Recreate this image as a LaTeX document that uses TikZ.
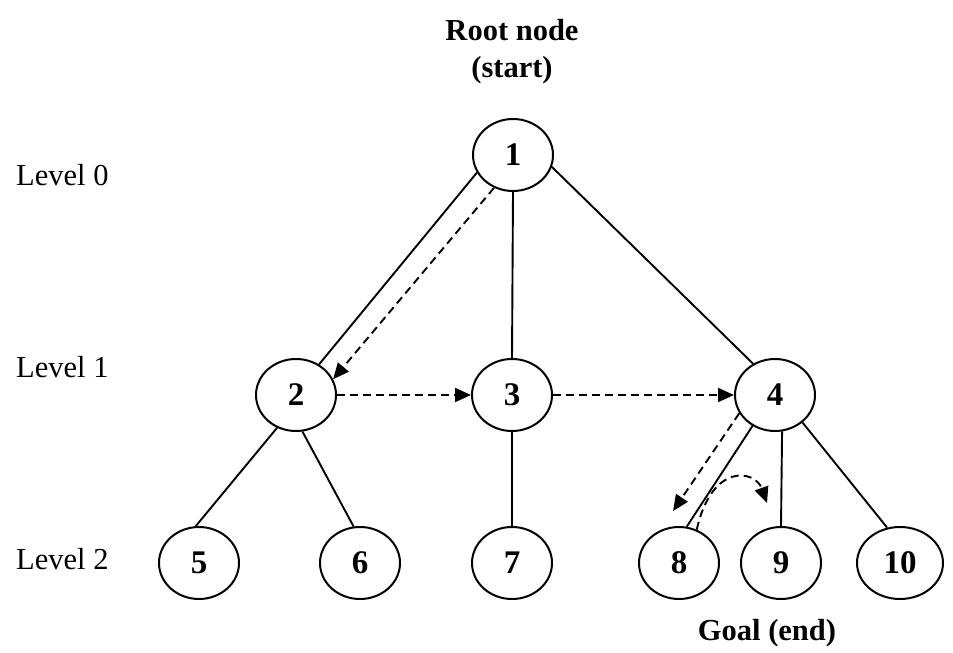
\documentclass[tikz,border=0pt]{standalone}
\usepackage{fontspec}
\setmainfont{Liberation Serif}
\usetikzlibrary{shapes.geometric,arrows.meta,calc}
\tikzset{
  treenode/.style={ellipse,draw,line width=2pt,minimum width=80pt,minimum height=72pt,inner sep=0pt,font=\fontsize{33}{33}\selectfont\bfseries},
  edge/.style={line width=1.9pt},
  walk/.style={line width=1.9pt,dash pattern=on 8pt off 5pt,-{Triangle[length=16pt,width=14pt]}},
  lab/.style={font=\fontsize{30.5}{30.5}\selectfont,anchor=base west,inner sep=0pt},
  title/.style={font=\fontsize{30.5}{30.5}\selectfont\bfseries,anchor=base,inner sep=0pt}
}
\begin{document}
\begin{tikzpicture}[x=1pt,y=-1pt]
\useasboundingbox (0,0) rectangle (953,653);
% titles and labels
\node[title] (root) at (512,40) {Root node};
\node[title] (start) at (512,77) {(start)};
\node[title] (goal) at (767,640) {Goal (end)};
\node[lab] (l0) at (16,185) {Level 0};
\node[lab] (l1) at (16,377) {Level 1};
\node[lab] (l2) at (16,569) {Level 2};
% nodes
\node[treenode] (n1) at (513,155) {1};
\node[treenode] (n2) at (296,395) {2};
\node[treenode] (n3) at (512,395) {3};
\node[treenode] (n4) at (775,395) {4};
\node[treenode] (n5) at (199,563) {5};
\node[treenode] (n6) at (360,563) {6};
\node[treenode] (n7) at (512,563) {7};
\node[treenode] (n8) at (679,563) {8};
\node[treenode] (n9) at (781,563) {9};
\node[treenode,minimum width=86pt] (n10) at (900,563) {10};
% tree edges
\draw[edge] (n1.206) -- (n2.53);
\draw[edge] (n1.south) -- (n3.north);
\draw[edge] (n1.343) -- (n4.125);
\draw[edge] (n2.240) -- (n5.95);
\draw[edge] (n2.280) -- (n6.100);
\draw[edge] (n3.south) -- (n7.north);
\draw[edge] (n4.234) -- (n8.78);
\draw[edge] (n4.281) -- (n9.north);
\draw[edge] (n4.315) -- (n10.110);
% search path
\coordinate (a8) at (673,511);
\coordinate (a9) at (767,503);
\draw[walk] (n1.240) -- (n2.23);
\draw[walk] (n2.east) -- (n3.west);
\draw[walk] (n3.east) -- (n4.west);
\draw[walk] (n4.207) -- (a8);
\draw[walk] (n8.62) .. controls (712,462) and (755,470) .. (a9);
\end{tikzpicture}
\end{document}
